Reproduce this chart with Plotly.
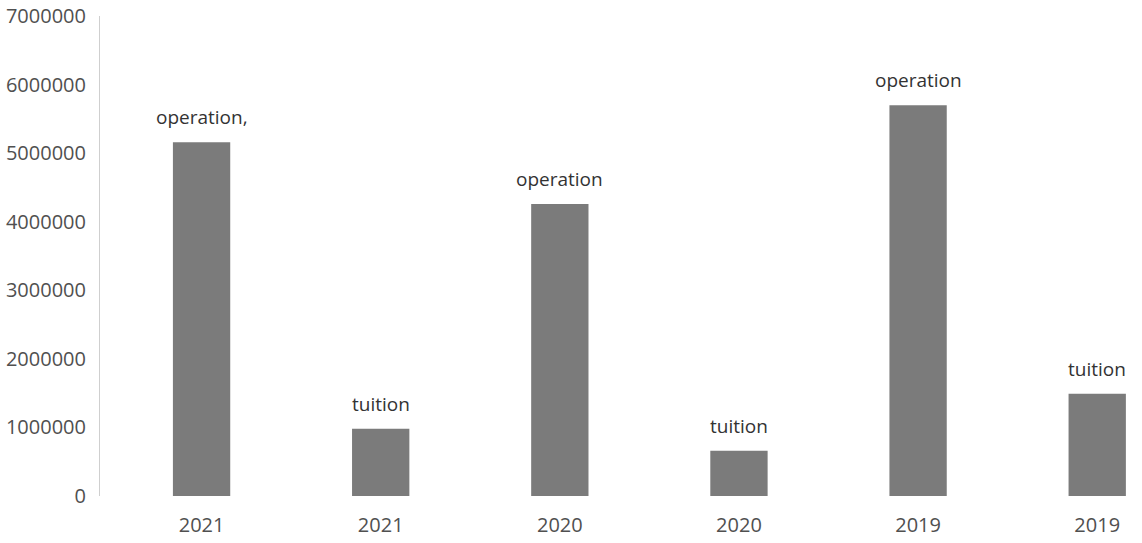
import plotly.graph_objects as go

years = ["2021", "2021", "2020", "2020", "2019", "2019"]
labels = ["operation,", "tuition", "operation", "tuition", "operation", "tuition"]
values = [5160000, 980000, 4260000, 660000, 5700000, 1490000]
positions = list(range(len(years)))

fig = go.Figure()
fig.add_trace(go.Bar(
    x=positions,
    y=values,
    marker=dict(color="#7b7b7b", line=dict(width=0)),
    width=0.32,
))

for xp, v, lab in zip(positions, values, labels):
    fig.add_annotation(
        x=xp, y=v, text=lab, showarrow=False,
        xanchor="center", yanchor="bottom", yshift=10,
        font=dict(size=19, color="#333333", family="Open Sans"),
    )

fig.update_layout(
    width=1142, height=543,
    margin=dict(l=100, r=0, t=16, b=47),
    paper_bgcolor="white",
    plot_bgcolor="white",
    showlegend=False,
    font=dict(family="Open Sans", size=19, color="#555555"),
    xaxis=dict(
        range=[-0.567, 5.25],
        tickvals=positions,
        ticktext=years,
        showgrid=False,
        zeroline=False,
        showline=False,
        ticks="",
        ticklabelstandoff=15,
        tickfont=dict(size=20, color="#505050"),
    ),
    yaxis=dict(
        range=[0, 7000000],
        tickvals=[0, 1000000, 2000000, 3000000, 4000000, 5000000, 6000000, 7000000],
        tickformat="d",
        showgrid=False,
        zeroline=False,
        showline=True,
        linecolor="#cfcfcf",
        linewidth=1,
        ticks="",
        ticklabelstandoff=9,
        tickfont=dict(size=20, color="#505050"),
    ),
)

fig.write_html("out.html")
